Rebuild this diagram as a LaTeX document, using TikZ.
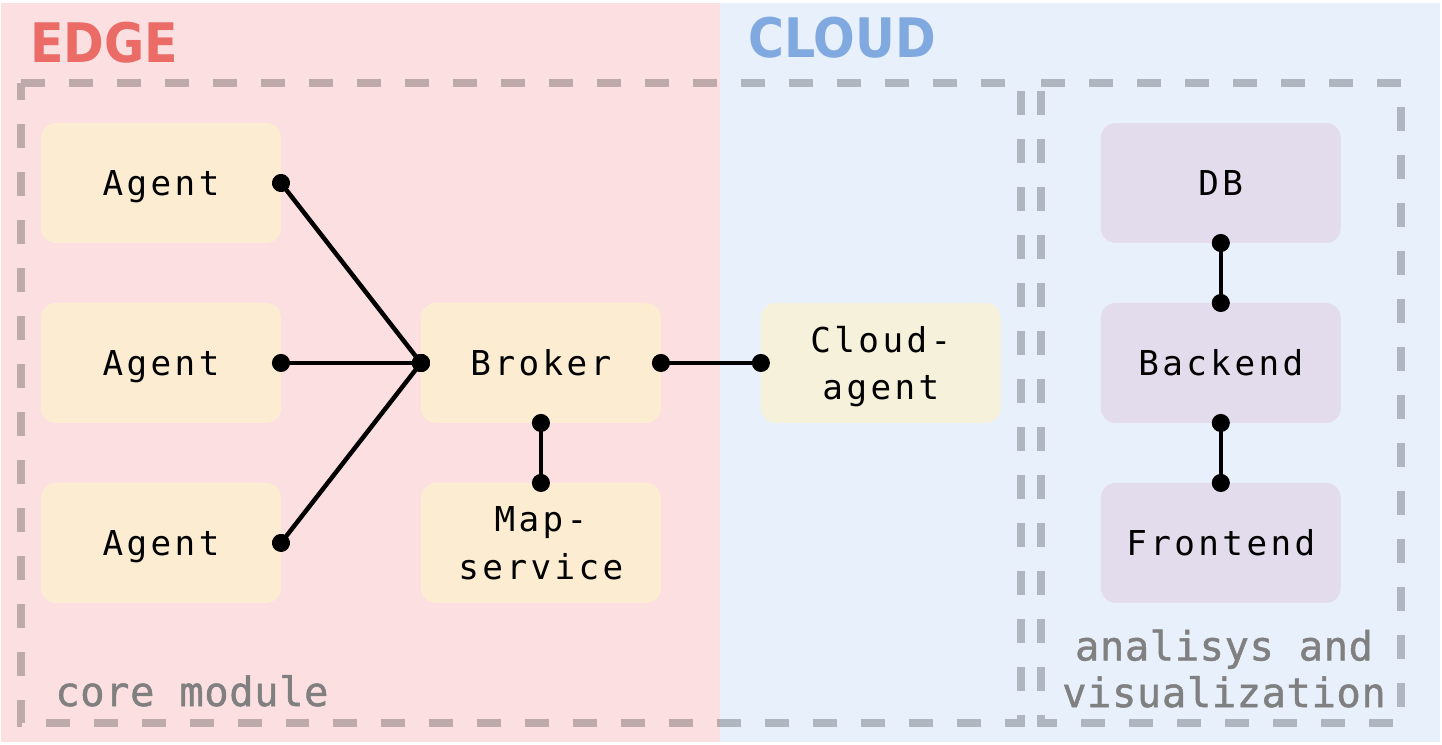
\documentclass[tikz,border=0pt]{standalone}
\usepackage{fontspec}
\usepackage{xcolor}
\usetikzlibrary{positioning,arrows.meta}

\newfontfamily\boxfont{DejaVu Sans Mono}[LetterSpace=10]
\newfontfamily\notefont{DejaVu Sans Mono}[FakeBold=1.2, LetterSpace=1.5]
\newfontfamily\titlefont{DejaVu Sans}[FakeStretch=0.9]

\definecolor{edgebg}{HTML}{FCE0E1}
\definecolor{cloudbg}{HTML}{E8F0FC}
\definecolor{edgered}{HTML}{EB6B66}
\definecolor{cloudblue}{HTML}{80A9E0}
\definecolor{compfill}{HTML}{FDF2CD}
\definecolor{vizfill}{HTML}{E3DCEC}
\definecolor{notegray}{HTML}{808080}

\begin{document}
\begin{tikzpicture}[
    x=0.02cm, y=-0.02cm,
    comp/.style={
        rounded corners=0.3cm,
        minimum width=4.8cm,
        minimum height=2.4cm,
        inner sep=0pt,
        outer sep=0pt,
        align=center,
        text height=0.5cm,
        text depth=0pt,
        font={\boxfont\fontsize{19.5}{27}\selectfont}
    },
    twoline/.style={text height=1.46cm},
    edgecomp/.style={comp, fill=compfill, fill opacity=0.7, text opacity=1},
    vizcomp/.style={comp, fill=vizfill},
    link/.style={line width=0.09cm, {Circle[length=0.36cm]}-{Circle[length=0.36cm]},
        shorten <=-0.18cm, shorten >=-0.18cm},
    module/.style={line width=0.16cm, draw=black, draw opacity=0.24,
        dash pattern=on 0.48cm off 0.48cm},
    note/.style={text=notegray, inner sep=0pt, align=center,
        font={\notefont\fontsize{23}{26.5}\selectfont}},
    title/.style={inner sep=0pt, anchor=base west,
        font={\titlefont\bfseries\fontsize{31}{36}\selectfont}}
]

\useasboundingbox (0,0) rectangle (1442,744);

% backgrounds
\fill[edgebg] (1,3) rectangle (720,742);
\fill[cloudbg] (720,3) rectangle (1440,742);
\node[title, text=edgered] (edge) at (30,62) {EDGE};
\node[title, text=cloudblue] (cloud) at (748,57) {CLOUD};

% components
\node[edgecomp] (agent1) at (161,183) {Agent};
\node[edgecomp, below=1.2cm of agent1] (agent2) {Agent};
\node[edgecomp, below=1.2cm of agent2] (agent3) {Agent};
\node[edgecomp, right=2.8cm of agent2] (broker) {Broker};
\node[edgecomp, twoline, below=1.2cm of broker] (mapservice) {Map-\\service};
\node[edgecomp, twoline, right=2cm of broker] (cloudagent) {Cloud-\\agent};
\node[vizcomp, right=2cm of cloudagent] (backend) {Backend};
\node[vizcomp, above=1.2cm of backend] (db) {DB};
\node[vizcomp, below=1.2cm of backend] (frontend) {Frontend};

% modules
\draw[module] (21,83) -- (1021,83) -- (1021,723) -- (21,723) -- cycle;
\draw[module] (1041,83) -- (1401,83) -- (1401,723) -- (1041,723) -- cycle;
\node[note, anchor=base west] (core) at (55,706) {core module};
\node[note, anchor=base] (analysis) at (1224,707) {analisys and\\visualization};

% links
\draw[link] (agent1.east) -- (broker.west);
\draw[link] (agent2.east) -- (broker.west);
\draw[link] (agent3.east) -- (broker.west);
\draw[link] (broker.south) -- (mapservice.north);
\draw[link] (broker.east) -- (cloudagent.west);
\draw[link] (db.south) -- (backend.north);
\draw[link] (backend.south) -- (frontend.north);

\end{tikzpicture}
\end{document}
